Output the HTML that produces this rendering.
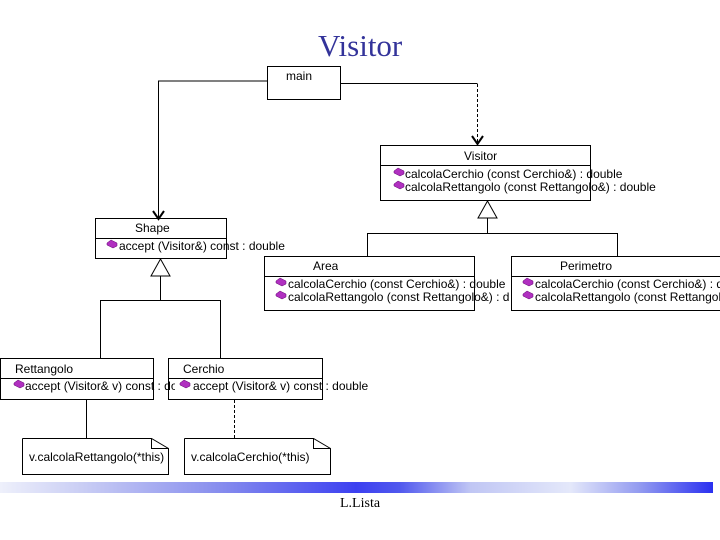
<!DOCTYPE html>
<html><head><style>
html,body{margin:0;width:720px;height:540px;overflow:hidden;}
#w{position:relative;width:720px;height:540px;overflow:hidden;background:#fff;font-family:"Liberation Sans",sans-serif;}
.t{position:absolute;font-size:12px;color:#000;white-space:nowrap;line-height:13px;overflow:hidden;}
.bar{position:absolute;left:0;top:482px;width:713px;height:11px;background:linear-gradient(to right,#eef0fb 0%,#c8ccf4 12%,#8a90ee 30%,#3c40f0 50%,#5058ee 56%,#c0c6f4 66%,#e4e8fa 80%,#9098f0 90%,#2a30f0 100%);}
</style></head><body><div id="w">
<div class="bar"></div>
<svg width="720" height="540" style="position:absolute;left:0;top:0">
<defs><g id="ic"><path d="M0,3 L4,0 L10,3 L10,6 L6,8 L0,5 Z" fill="#b030c0" stroke="#600070" stroke-width="0.5"/></g></defs>
<g fill="none" stroke="#000" stroke-width="1">
<rect x="267.5" y="66.5" width="73" height="33"/>
<polyline points="267,81 158.5,81 158.5,219"/>
<polyline points="153,211 158.5,219 164,211" stroke-width="2"/>
<line x1="341" y1="83.5" x2="477.5" y2="83.5"/>
<line x1="477.5" y1="84" x2="477.5" y2="145" stroke-dasharray="3,2"/>
<polyline points="472,136 477.5,144 483,136" stroke-width="2"/>
<rect x="380.5" y="145.5" width="210" height="55"/><line x1="380" y1="165.5" x2="590" y2="165.5"/>
<polygon points="487.5,201 478,218 497,218"/>
<polyline points="487.5,218 487.5,233.5"/>
<polyline points="367.5,256 367.5,233.5 617.5,233.5 617.5,256"/>
<rect x="95.5" y="218.5" width="131" height="40"/><line x1="95" y1="238.5" x2="226" y2="238.5"/>
<polygon points="160.5,259 151,276 170,276"/>
<line x1="160.5" y1="276" x2="160.5" y2="300.5"/>
<polyline points="100.5,358 100.5,300.5 220.5,300.5 220.5,358"/>
<rect x="264.5" y="256.5" width="210" height="54"/><line x1="264" y1="276.5" x2="474" y2="276.5"/>
<rect x="511.5" y="256.5" width="215" height="54"/><line x1="511" y1="276.5" x2="720" y2="276.5"/>
<rect x="0.5" y="358.5" width="153" height="41"/><line x1="0" y1="378.5" x2="153" y2="378.5"/>
<rect x="168.5" y="358.5" width="154" height="41"/><line x1="168" y1="378.5" x2="322" y2="378.5"/>
<line x1="86.5" y1="400" x2="86.5" y2="438"/>
<line x1="234.5" y1="400" x2="234.5" y2="438" stroke-dasharray="3,2"/>
<polyline points="22.5,438.5 151.5,438.5 168.5,448.5 168.5,474.5 22.5,474.5 22.5,438.5"/>
<polyline points="151.5,438.5 151.5,448.5 168.5,448.5"/>
<polyline points="184.5,438.5 313.5,438.5 330.5,448.5 330.5,474.5 184.5,474.5 184.5,438.5"/>
<polyline points="313.5,438.5 313.5,448.5 330.5,448.5"/>
</g>
<use href="#ic" x="394" y="168"/><use href="#ic" x="394" y="181"/>
<use href="#ic" x="107" y="240"/>
<use href="#ic" x="276" y="278"/><use href="#ic" x="276" y="291"/>
<use href="#ic" x="523" y="278"/><use href="#ic" x="523" y="291"/>
<use href="#ic" x="14" y="380"/><use href="#ic" x="180" y="380"/>
</svg>
<div style="position:absolute;left:318px;top:28px;font-family:'Liberation Serif',serif;font-size:31px;color:#33339a;line-height:36px;">Visitor</div>
<div class="t" style="left:286px;top:70px">main</div>
<div class="t" style="left:464px;top:150px">Visitor</div>
<div class="t" style="left:405px;top:168px">calcolaCerchio (const Cerchio&amp;) : double</div>
<div class="t" style="left:405px;top:181px">calcolaRettangolo (const Rettangolo&amp;) : double</div>
<div class="t" style="left:135px;top:222px">Shape</div>
<div class="t" style="left:119px;top:240px">accept (Visitor&amp;) const : double</div>
<div class="t" style="left:313px;top:260px">Area</div>
<div class="t" style="left:288px;top:278px;width:222px">calcolaCerchio (const  Cerchio&amp;) : double</div>
<div class="t" style="left:288px;top:291px;width:222px">calcolaRettangolo (const Rettangolo&amp;) : double</div>
<div class="t" style="left:560px;top:260px">Perimetro</div>
<div class="t" style="left:535px;top:278px">calcolaCerchio (const Cerchio&amp;) : double</div>
<div class="t" style="left:535px;top:291px">calcolaRettangolo (const Rettangolo&amp;) : double</div>
<div class="t" style="left:15px;top:363px">Rettangolo</div>
<div class="t" style="left:25px;top:380px;width:150px">accept (Visitor&amp;  v) const : double</div>
<div class="t" style="left:183px;top:363px">Cerchio</div>
<div class="t" style="left:193px;top:380px">accept (Visitor&amp;  v) const : double</div>
<div class="t" style="left:29px;top:451px">v.calcolaRettangolo(*this)</div>
<div class="t" style="left:191px;top:451px">v.calcolaCerchio(*this)</div>
<div style="position:absolute;left:340px;top:496px;font-family:'Liberation Serif',serif;font-size:14px;">L.Lista</div>
</div></body></html>
